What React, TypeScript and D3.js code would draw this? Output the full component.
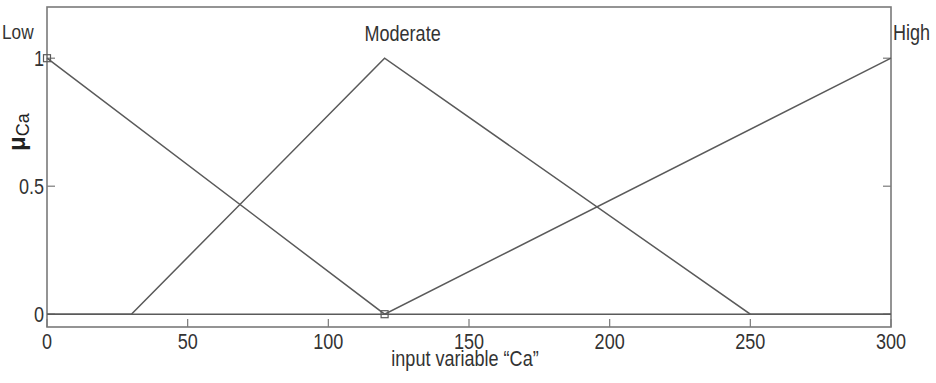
import React from "react";
import * as d3 from "d3";

// membership functions of input variable "Ca"
const mfNames = ["Low", "Moderate", "High"];
const lowX = [0, 0, 120, 300];
const lowY = [1, 1, 0, 0];
const moderateX = [0, 30, 120, 250, 300];
const moderateY = [0, 0, 1, 0, 0];
const highX = [0, 120, 300];
const highY = [0, 0, 1];
const markerX = [0, 120];
const markerY = [1, 0];

const xTicks = [0, 50, 100, 150, 200, 250, 300];
const yTicks = [0, 0.5, 1];
const yTickLabels = ["0", "0.5", "1"];

const W = 936;
const H = 383;
const margin = { left: 47, right: 45, top: 7, bottom: 56 };
const FONT = "'Liberation Sans', Arial, sans-serif";
const SQUEEZE = 0.82;

// narrow-looking text: the original uses a condensed Helvetica
const Txt = ({ x, y, anchor = "start", size = 22, children }: any) => (
  <text
    transform={`translate(${x},${y}) scale(${SQUEEZE},1)`}
    textAnchor={anchor}
    fontFamily={FONT}
    fontSize={size}
    fill="#333"
  >
    {children}
  </text>
);

const App = () => {
  const x = d3.scaleLinear().domain([0, 300]).range([margin.left, W - margin.right]);
  const y = d3.scaleLinear().domain([-0.05, 1.2]).range([H - margin.bottom, margin.top]);

  const line = d3
    .line<[number, number]>()
    .x((d) => x(d[0]))
    .y((d) => y(d[1]));

  const series = [
    d3.zip(lowX, lowY) as [number, number][],
    d3.zip(moderateX, moderateY) as [number, number][],
    d3.zip(highX, highY) as [number, number][],
  ];

  const tick = 8;
  const x0 = x(0), x1 = x(300), yb = y(-0.05), yt = y(1.2);
  const lineColor = "#5a5a5a";
  const frameColor = "#7a7a7a";

  return (
    <svg width={W} height={H} style={{ position: "absolute", left: 0, top: 0, background: "#fff" }}>
      {/* frame */}
      <rect x={x0} y={yt} width={x1 - x0} height={yb - yt} fill="none" stroke={frameColor} strokeWidth={1.6} />

      {/* ticks */}
      {xTicks.map((t) => (
        <g key={"xt" + t}>
          <line x1={x(t)} x2={x(t)} y1={yb} y2={yb - tick} stroke={frameColor} strokeWidth={1.2} />
          <Txt x={x(t)} y={349} anchor="middle" size={22}>
            {t}
          </Txt>
        </g>
      ))}
      {yTicks.map((t, i) => (
        <g key={"yt" + t}>
          <line x1={x0} x2={x0 + tick} y1={y(t)} y2={y(t)} stroke={frameColor} strokeWidth={1.2} />
          <line x1={x1} x2={x1 - tick} y1={y(t)} y2={y(t)} stroke={frameColor} strokeWidth={1.2} />
          <Txt x={x0 - 3} y={y(t) + 8} anchor="end" size={22}>
            {yTickLabels[i]}
          </Txt>
        </g>
      ))}

      {/* membership function lines */}
      {series.map((s, i) => (
        <path key={mfNames[i]} d={line(s) ?? ""} fill="none" stroke={lineColor} strokeWidth={1.5} />
      ))}

      {/* markers */}
      {markerX.map((mx, i) => (
        <rect
          key={"m" + i}
          x={x(mx) - 3.5}
          y={y(markerY[i]) - 3.5}
          width={7}
          height={7}
          fill="none"
          stroke={lineColor}
          strokeWidth={1.2}
        />
      ))}

      {/* mf names */}
      <Txt x={x(0) - 45} y={39} anchor="start" size={21}>
        {mfNames[0]}
      </Txt>
      <Txt x={x(120) + 18} y={41} anchor="middle">
        {mfNames[1]}
      </Txt>
      <Txt x={x(300) + 2} y={40} anchor="start">
        {mfNames[2]}
      </Txt>

      {/* axis labels */}
      <Txt x={(x0 + x1) / 2 - 4} y={366} anchor="middle">
        input variable “Ca”
      </Txt>
      <text transform="translate(25,151) rotate(-90)" fontFamily={FONT} fill="#222">
        <tspan fontSize={24} fontWeight="bold">μ</tspan>
        <tspan fontSize={18} dy={4}>Ca</tspan>
      </text>
    </svg>
  );
};

export default App;
